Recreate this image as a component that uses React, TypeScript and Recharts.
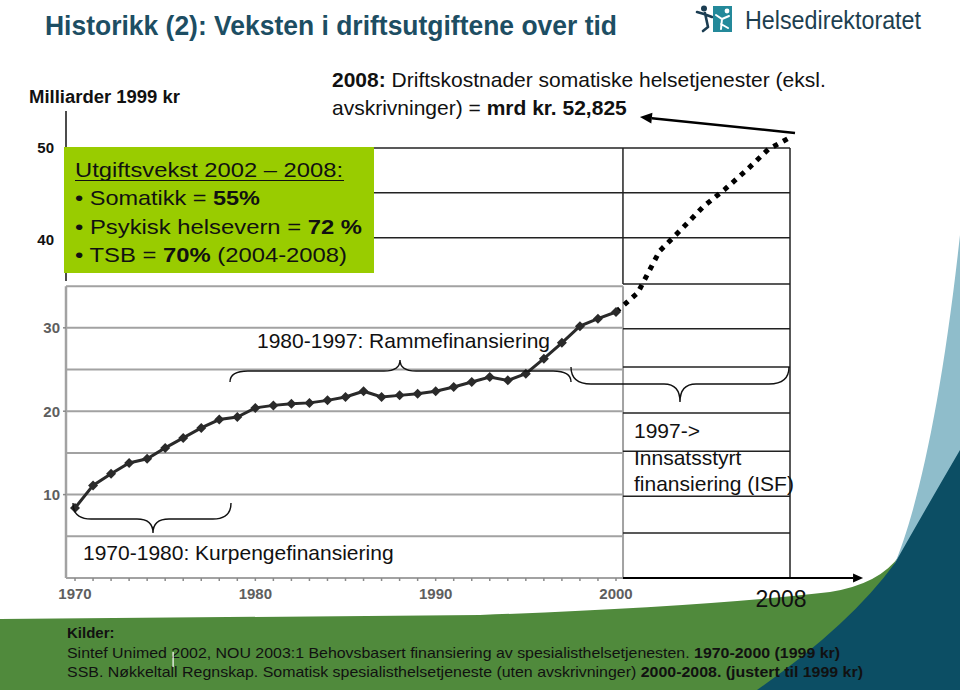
import React from 'react';
import { LineChart, Line, XAxis, YAxis, ReferenceLine } from 'recharts';

// ---------- data ----------
const oldYears = [1970, 1971, 1972, 1973, 1974, 1975, 1976, 1977, 1978, 1979, 1980, 1981, 1982, 1983, 1984, 1985, 1986, 1987, 1988, 1989, 1990, 1991, 1992, 1993, 1994, 1995, 1996, 1997, 1998, 1999, 2000];
const oldValues = [8.4, 11.1, 12.5, 13.8, 14.3, 15.6, 16.8, 18.0, 19.0, 19.3, 20.4, 20.7, 20.9, 21.0, 21.3, 21.7, 22.4, 21.7, 21.9, 22.1, 22.4, 22.9, 23.5, 24.1, 23.7, 24.5, 26.3, 28.2, 30.2, 31.1, 31.9];
const newYears = [2000, 2001, 2002, 2003, 2004, 2005, 2006, 2007, 2008];
const newValues = [31.9, 34.2, 39.2, 41.8, 44.5, 46.6, 48.9, 51.4, 52.825];
const decadeLabels = [1970, 1980, 1990, 2000];
const yTickValues = [10, 20, 30];
const upperTickValues = [40, 50];
const oldGridValues = [5, 10, 15, 20, 25, 30, 35];
const isfGridValues = [5.4, 9.8, 15.2, 19.8, 25.3, 29.9, 35.25];
const upperGridValues = [40.8, 46.2, 51.55];

const oldData = oldYears.map((year, i) => ({ year, value: oldValues[i] }));
const newData = newYears.map((year, i) => ({ year, value: newValues[i] }));

// ---------- layout constants (axis units) ----------
const OLD_LEFT = 1969.5;
const OLD_RIGHT = 2000.39;
const OLD_TOP = 35;
const BOX_LEFT = 2000.32;
const BOX_RIGHT = 2008;
const ARROW_END = 2011.36;
const UPPER_LEFT = 1974.8;
const FONT = "'Liberation Sans', Arial, Helvetica, sans-serif";

const Diamond = (props: any) => {
  const { cx, cy, index } = props;
  if (cx == null || cy == null) return null;
  const r = 5;
  return (
    <path
      key={`dm-${index}`}
      d={`M${cx},${cy - r}L${cx + r},${cy}L${cx},${cy + r}L${cx - r},${cy}Z`}
      fill="#2a2a2a"
    />
  );
};

const arrowShape = (head: number) => (p: any) => {
  const { x1, y1, x2, y2, stroke, strokeWidth } = p;
  const ang = Math.atan2(y2 - y1, x2 - x1);
  const bx = x2 - head * Math.cos(ang);
  const by = y2 - head * Math.sin(ang);
  const w = head * 0.45;
  const pts = `${x2},${y2} ${bx - w * Math.sin(ang)},${by + w * Math.cos(ang)} ${bx + w * Math.sin(ang)},${by - w * Math.cos(ang)}`;
  return (
    <g>
      <line x1={x1} y1={y1} x2={bx} y2={by} stroke={stroke} strokeWidth={strokeWidth} />
      <polygon points={pts} fill={stroke} />
    </g>
  );
};

const gray = '#a2a2a2';

export default function App() {
  return (
    <div
      style={{
        position: 'absolute',
        left: 0,
        top: 0,
        width: 960,
        height: 690,
        background: '#fff',
        overflow: 'hidden',
        fontFamily: FONT,
      }}
    >
      {/* background shapes */}
      <svg width={960} height={690} style={{ position: 'absolute', left: 0, top: 0 }}>
        <path d="M0,619 L480,615 Q700,607 830,592 Q880,584 900,555 L960,480 L960,690 L0,690 Z" fill="#508a3c" />
        <path d="M893,568 C918,510 942,400 960,235 L960,690 Z" fill="#8fbdcb" />
        <path d="M757,690 Q850,625 895,563 Q925,510 960,450 L960,690 Z" fill="#0c4e64" />
      </svg>

      <div style={{ position: 'absolute', left: 0, top: 0 }}>
        <LineChart width={960} height={690} margin={{ top: 111, right: 94, bottom: 82, left: 30 }}>
          <XAxis
            xAxisId="a"
            type="number"
            dataKey="year"
            domain={[1969.5, 2013.864]}
            allowDataOverflow
            ticks={oldYears}
            interval={0}
            tickFormatter={(v: number) => (decadeLabels.includes(v) ? String(v) : '')}
            axisLine={false}
            tickLine={{ stroke: '#8a8a8a', strokeWidth: 1.5 }}
            tickSize={3}
            tickMargin={7}
            height={30}
            tick={{ fill: '#5e5e5e', fontSize: 15, fontWeight: 700, fontFamily: FONT }}
          />
          <XAxis xAxisId="b" type="number" dataKey="year" domain={[1974.713, 2011.494]} allowDataOverflow hide height={0} />
          <YAxis
            yAxisId="a"
            type="number"
            domain={[0, 56]}
            allowDataOverflow
            ticks={yTickValues}
            interval={0}
            axisLine={false}
            tickLine={{ stroke: '#8a8a8a', strokeWidth: 1.5 }}
            tickSize={3}
            tickMargin={3}
            width={36}
            tick={{ fill: '#5e5e5e', fontSize: 15, fontWeight: 700, fontFamily: FONT }}
          />
          <YAxis yAxisId="b" type="number" domain={[3.26, 54.02]} allowDataOverflow hide width={0} />

          {/* old chart gridlines */}
          {oldGridValues.map((v) => (
            <ReferenceLine
              key={`g-${v}`}
              xAxisId="a"
              yAxisId="a"
              segment={[{ x: OLD_LEFT, y: v }, { x: OLD_RIGHT, y: v }]}
              stroke={gray}
              strokeWidth={2}
            />
          ))}
          <ReferenceLine xAxisId="a" yAxisId="a" segment={[{ x: OLD_LEFT, y: 0 }, { x: OLD_RIGHT, y: 0 }]} stroke={gray} strokeWidth={2} />
          <ReferenceLine xAxisId="a" yAxisId="a" segment={[{ x: OLD_LEFT, y: 0 }, { x: OLD_LEFT, y: OLD_TOP }]} stroke={gray} strokeWidth={2.5} />
          <ReferenceLine xAxisId="a" yAxisId="a" segment={[{ x: OLD_RIGHT, y: 0 }, { x: OLD_RIGHT, y: OLD_TOP }]} stroke={gray} strokeWidth={2} />
          <ReferenceLine xAxisId="a" yAxisId="a" segment={[{ x: OLD_LEFT, y: 35.6 }, { x: OLD_LEFT, y: 56 }]} stroke="#111" strokeWidth={1.5} />

          {/* right-hand box (ISF period) */}
          {isfGridValues.map((v) => (
            <ReferenceLine
              key={`i-${v}`}
              xAxisId="b"
              yAxisId="a"
              segment={[{ x: BOX_LEFT, y: v }, { x: BOX_RIGHT, y: v }]}
              stroke="#222"
              strokeWidth={1.5}
            />
          ))}
          {upperGridValues.map((v) => (
            <ReferenceLine
              key={`u-${v}`}
              xAxisId="b"
              yAxisId="a"
              segment={[{ x: UPPER_LEFT, y: v }, { x: BOX_RIGHT, y: v }]}
              stroke="#222"
              strokeWidth={1.5}
            />
          ))}
          <ReferenceLine xAxisId="b" yAxisId="a" segment={[{ x: BOX_LEFT, y: 35.25 }, { x: BOX_LEFT, y: 51.55 }]} stroke="#222" strokeWidth={1.5} />
          <ReferenceLine xAxisId="b" yAxisId="a" segment={[{ x: BOX_RIGHT, y: 0 }, { x: BOX_RIGHT, y: 51.55 }]} stroke="#222" strokeWidth={1.5} />
          <ReferenceLine
            xAxisId="b"
            yAxisId="a"
            segment={[{ x: BOX_LEFT, y: 0 }, { x: ARROW_END, y: 0 }]}
            stroke="#000"
            strokeWidth={2}
            shape={arrowShape(10)}
          />
          <ReferenceLine
            xAxisId="b"
            yAxisId="a"
            segment={[{ x: 2008.23, y: 53.36 }, { x: 2001.1, y: 55.28 }]}
            stroke="#000"
            strokeWidth={2.5}
            shape={arrowShape(12)}
          />

          {/* 40 / 50 labels of the extended scale */}
          {upperTickValues.map((v) => (
            <ReferenceLine
              key={`ul-${v}`}
              xAxisId="a"
              yAxisId="b"
              y={v}
              stroke="none"
              label={{ value: String(v), position: 'left', offset: 12, fill: '#111', fontSize: 15, fontWeight: 700, fontFamily: FONT }}
            />
          ))}

          <Line
            xAxisId="a"
            yAxisId="a"
            data={oldData}
            dataKey="value"
            type="linear"
            stroke="#2a2a2a"
            strokeWidth={3}
            dot={Diamond}
            activeDot={false}
            isAnimationActive={false}
          />
          <Line
            xAxisId="b"
            yAxisId="a"
            data={newData}
            dataKey="value"
            type="linear"
            stroke="#000"
            strokeWidth={5}
            strokeDasharray="5 6"
            dot={false}
            activeDot={false}
            isAnimationActive={false}
          />
        </LineChart>
      </div>

      {/* overlay: text, braces, logo, info box */}
      <svg width={960} height={690} style={{ position: 'absolute', left: 0, top: 0, pointerEvents: 'none' }} fontFamily={FONT}>
        <text x={45} y={35} fontSize={27} fontWeight={700} fill="#1d4e63" textLength={572} lengthAdjust="spacingAndGlyphs">
          Historikk (2): Veksten i driftsutgiftene over tid
        </text>

        {/* logo */}
        <g>
          <circle cx={704} cy={8.5} r={3} fill="#1b3d52" />
          <path d="M697,12 L704,14 L712,17 M705,13 L708,27 M708,27 L703,31" stroke="#1b3d52" strokeWidth={2.6} fill="none" strokeLinecap="round" />
          <rect x={713} y={6} width={19} height={26} fill="#24899a" />
          <circle cx={727} cy={11} r={2.4} fill="#fff" />
          <path d="M716,15 L722,19 L729,16 M722,19 L721,29 M721,24 L728,28" stroke="#fff" strokeWidth={2} fill="none" strokeLinecap="round" />
          <text x={745} y={29} fontSize={26} fill="#1d3f50" textLength={176} lengthAdjust="spacingAndGlyphs">
            Helsedirektoratet
          </text>
        </g>

        <text x={29} y={103} fontSize={18} fontWeight={700} fill="#111" textLength={151} lengthAdjust="spacingAndGlyphs">
          Milliarder 1999 kr
        </text>

        <text x={332} y={87} fontSize={21} fill="#111">
          <tspan fontWeight={700}>2008:</tspan> Driftskostnader somatiske helsetjenester (eksl.
        </text>
        <text x={332} y={115} fontSize={21} fill="#111">
          avskrivninger) = <tspan fontWeight={700}>mrd kr. 52,825</tspan>
        </text>

        {/* green info box */}
        <rect x={64} y={147} width={310} height={126} fill="#99cc00" />
        <text x={75} y={177} fontSize={21} fill="#111" textLength={268} lengthAdjust="spacingAndGlyphs">
          Utgiftsvekst 2002 – 2008:
        </text>
        <line x1={75} y1={180.5} x2={344} y2={180.5} stroke="#111" strokeWidth={1.2} />
        <text x={75} y={205} fontSize={21} fill="#111" textLength={185} lengthAdjust="spacingAndGlyphs">
          • Somatikk = <tspan fontWeight={700}>55%</tspan>
        </text>
        <text x={75} y={234} fontSize={21} fill="#111" textLength={287} lengthAdjust="spacingAndGlyphs">
          • Psykisk helsevern = <tspan fontWeight={700}>72 %</tspan>
        </text>
        <text x={75} y={262} fontSize={21} fill="#111" textLength={272} lengthAdjust="spacingAndGlyphs">
          • TSB = <tspan fontWeight={700}>70%</tspan> (2004-2008)
        </text>

        {/* braces */}
        <path d="M73,503 Q73,519 91,519 L137,519 Q153,519 153,533 Q153,519 169,519 L213,519 Q231,519 231,503" stroke="#111" strokeWidth={1.4} fill="none" />
        <path d="M230,382 Q230,371 248,371 L384,371 Q400,371 400,360 Q400,371 416,371 L553,371 Q571,371 571,382" stroke="#111" strokeWidth={1.4} fill="none" />
        <path d="M571,367 Q571,384 591,384 L664,384 Q680,384 680,402 Q680,384 696,384 L769,384 Q789,384 789,367" stroke="#111" strokeWidth={1.4} fill="none" />

        <text x={257} y={348} fontSize={21} fill="#111">1980-1997: Rammefinansiering</text>
        <text x={634} y={438} fontSize={21} fill="#111">1997-&gt;</text>
        <text x={634} y={465} fontSize={21} fill="#111">Innsatsstyrt</text>
        <text x={634} y={491} fontSize={21} fill="#111">finansiering (ISF)</text>
        <text x={83} y={560} fontSize={21} fill="#111">1970-1980: Kurpengefinansiering</text>
        <text x={781} y={607} fontSize={23} fill="#111" textAnchor="middle">2008</text>

        {/* sources */}
        <text x={67} y={638} fontSize={15} fontWeight={700} fill="#111">Kilder:</text>
        <text x={67} y={658} fontSize={15} fill="#111" textLength={773} lengthAdjust="spacingAndGlyphs">
          Sintef Unimed 2002, NOU 2003:1 Behovsbasert finansiering av spesialisthelsetjenesten. <tspan fontWeight={700}>1970-2000 (1999 kr)</tspan>
        </text>
        <text x={67} y={677} fontSize={15} fill="#111" textLength={796} lengthAdjust="spacingAndGlyphs">
          SSB. Nøkkeltall Regnskap. Somatisk spesialisthelsetjeneste (uten avskrivninger) <tspan fontWeight={700}>2000-2008. (justert til 1999 kr)</tspan>
        </text>
        <rect x={172.5} y={652} width={1.2} height={15} fill="#fff" />
      </svg>
    </div>
  );
}
